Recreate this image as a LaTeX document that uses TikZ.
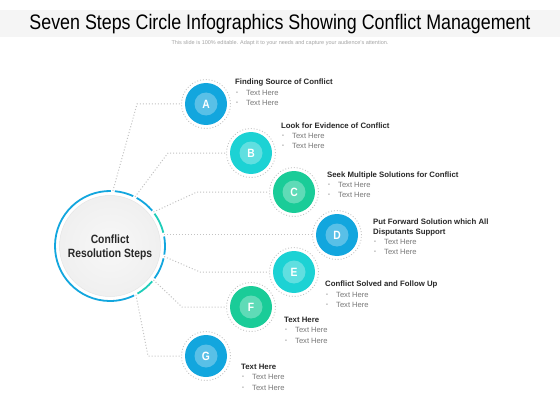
\documentclass[tikz,border=0pt]{standalone}
\usepackage{fontspec}
\setmainfont{Liberation Sans}
\newfontfamily\titlefont[FakeStretch=0.85]{Liberation Sans}
\newfontfamily\narrowfont[FakeStretch=0.86]{Liberation Sans}
\definecolor{cblue}{RGB}{18,166,222}
\definecolor{ccyan}{RGB}{28,210,212}
\definecolor{cgreen}{RGB}{26,204,152}
\definecolor{ringteal}{RGB}{30,205,185}
\definecolor{linegray}{RGB}{195,195,195}
\definecolor{darktext}{RGB}{40,40,40}
\definecolor{bodygray}{RGB}{120,120,120}
\definecolor{bulgray}{RGB}{165,165,165}
\definecolor{bandgray}{RGB}{245,245,245}
\begin{document}
\begin{tikzpicture}[x=1pt,y=-1pt,
  conn/.style={draw=linegray, line width=1pt, dash pattern=on 1pt off 2pt},
  dotring/.style={circle, draw=linegray, line width=0.9pt, dash pattern=on 0.9pt off 2pt, fill=white, minimum size=49pt, inner sep=0pt},
  disk/.style={circle, fill=#1, minimum size=42pt, inner sep=0pt},
  core/.style={circle, fill=white, fill opacity=0.3, text opacity=1, text=white, minimum size=23pt, inner sep=0pt, font=\narrowfont\bfseries\fontsize{12}{12}\selectfont},
  ttl/.style={anchor=west, inner sep=0pt, text=darktext, font=\bfseries\fontsize{7.8}{9}\selectfont},
  bul/.style={anchor=west, inner sep=0pt, text=bulgray, font=\fontsize{5.5}{6}\selectfont},
  txt/.style={anchor=west, inner sep=0pt, text=bodygray, font=\fontsize{7.6}{9}\selectfont},
  ringseg/.style={line width=1.8pt}
]
\useasboundingbox[fill=white] (0,0) rectangle (560,420);
% title band
\fill[bandgray] (0,10) rectangle (560,37);
\node[inner sep=0pt, text=black, font=\titlefont\fontsize{21}{24}\selectfont] (title) at (280,24) {Seven Steps Circle Infographics Showing Conflict Management};
\node[inner sep=0pt, text=bulgray, font=\fontsize{5.5}{6}\selectfont] (sub) at (280,43) {This slide is 100\% editable. Adapt it to your needs and capture your audience's attention.};

% main circle
\node[circle, minimum size=110pt, inner sep=0pt] (main) at (110,246) {};
\node[circle, minimum size=101pt, inner sep=0pt, draw=white!90!black, line width=0.5pt, inner color=white!97!black, outer color=white!94!black] (inner) at (main.center) {};
\node[align=center, inner sep=0pt, text=darktext, font=\narrowfont\bfseries\fontsize{12}{14}\selectfont] (mtext) at (110,247) {Conflict\\Resolution Steps};

% ring segments (screen angles negated because y points down)
\draw[ringseg, cblue] (main.center) ++(-89:55) arc[start angle=-89, end angle=-296, radius=55];
\draw[ringseg, cblue] (main.center) ++(-65:55) arc[start angle=-65, end angle=-85, radius=55];
\draw[ringseg, cblue] (main.center) ++(-40:55) arc[start angle=-40, end angle=-61, radius=55];
\draw[ringseg, ringteal] (main.center) ++(-14:55) arc[start angle=-14, end angle=-36, radius=55];
\draw[ringseg, cblue] (main.center) ++(9:55) arc[start angle=9, end angle=-10, radius=55];
\draw[ringseg, cblue] (main.center) ++(36:55) arc[start angle=36, end angle=13, radius=55];
\draw[ringseg, ringteal] (main.center) ++(60:55) arc[start angle=60, end angle=40, radius=55];

% step circles: dotted rings
\node[dotring] (rA) at (206,104) {};
\node[dotring] (rB) at (251,153) {};
\node[dotring] (rC) at (294,192) {};
\node[dotring] (rD) at (337,235) {};
\node[dotring] (rE) at (294,272) {};
\node[dotring] (rF) at (251,307) {};
\node[dotring] (rG) at (206,356) {};

% connectors
\coordinate (kA) at (137,104);
\coordinate (kB) at (168,153);
\coordinate (kC) at (197,192);
\coordinate (kE) at (200,272);
\coordinate (kF) at (182,307);
\coordinate (kG) at (148,356);
\draw[conn] (main.87) -- (kA) -- (rA.west);
\draw[conn] (main.63) -- (kB) -- (rB.west);
\draw[conn] (main.38) -- (kC) -- (rC.west);
\draw[conn] (main.12) -- (main.12 -| rD.west);
\draw[conn] (main.-11) -- (kE) -- (rE.west);
\draw[conn] (main.-38) -- (kF) -- (rF.west);
\draw[conn] (main.-62) -- (kG) -- (rG.west);

% disks
\node[disk=cblue] (A) at (rA.center) {};
\node[disk=ccyan] (B) at (rB.center) {};
\node[disk=cgreen] (C) at (rC.center) {};
\node[disk=cblue] (D) at (rD.center) {};
\node[disk=ccyan] (E) at (rE.center) {};
\node[disk=cgreen] (F) at (rF.center) {};
\node[disk=cblue] (G) at (rG.center) {};
\node[core] (lA) at (A.center) {A};
\node[core] (lB) at (B.center) {B};
\node[core] (lC) at (C.center) {C};
\node[core] (lD) at (D.center) {D};
\node[core] (lE) at (E.center) {E};
\node[core] (lF) at (F.center) {F};
\node[core] (lG) at (G.center) {G};

% texts A
\node[ttl] (tA) at (235,83) {Finding Source of Conflict};
\node[bul] (bA1) at (236,93) {•};  \node[txt] (xA1) at (246,93) {Text Here};
\node[bul] (bA2) at (236,103) {•}; \node[txt] (xA2) at (246,103) {Text Here};
% B
\node[ttl] (tB) at (281,126) {Look for Evidence of Conflict};
\node[bul] (bB1) at (282,136) {•};  \node[txt] (xB1) at (292,136) {Text Here};
\node[bul] (bB2) at (282,146) {•};  \node[txt] (xB2) at (292,146) {Text Here};
% C
\node[ttl] (tC) at (327,175) {Seek Multiple Solutions for Conflict};
\node[bul] (bC1) at (328,185) {•};  \node[txt] (xC1) at (338,185) {Text Here};
\node[bul] (bC2) at (328,195) {•};  \node[txt] (xC2) at (338,195) {Text Here};
% D
\node[ttl] (tD1) at (373,222) {Put Forward Solution which All};
\node[ttl] (tD2) at (373,232) {Disputants Support};
\node[bul] (bD1) at (374,242) {•};  \node[txt] (xD1) at (384,242) {Text Here};
\node[bul] (bD2) at (374,252) {•};  \node[txt] (xD2) at (384,252) {Text Here};
% E
\node[ttl] (tE) at (325,284) {Conflict Solved and Follow Up};
\node[bul] (bE1) at (326,295) {•};  \node[txt] (xE1) at (336,295) {Text Here};
\node[bul] (bE2) at (326,305) {•};  \node[txt] (xE2) at (336,305) {Text Here};
% F
\node[ttl] (tF) at (284,320) {Text Here};
\node[bul] (bF1) at (285,330) {•};  \node[txt] (xF1) at (295,330) {Text Here};
\node[bul] (bF2) at (285,341) {•};  \node[txt] (xF2) at (295,341) {Text Here};
% G
\node[ttl] (tG) at (241,367) {Text Here};
\node[bul] (bG1) at (242,377) {•};  \node[txt] (xG1) at (252,377) {Text Here};
\node[bul] (bG2) at (242,388) {•};  \node[txt] (xG2) at (252,388) {Text Here};
\end{tikzpicture}
\end{document}
